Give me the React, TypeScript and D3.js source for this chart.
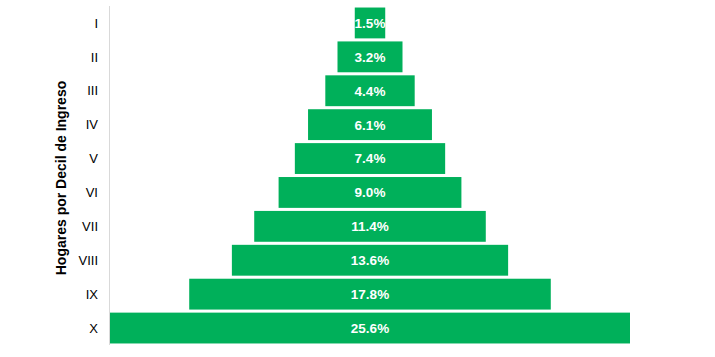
import React from "react";
import * as d3 from "d3";

const deciles = ["I", "II", "III", "IV", "V", "VI", "VII", "VIII", "IX", "X"];
const shares = [1.5, 3.2, 4.4, 6.1, 7.4, 9.0, 11.4, 13.6, 17.8, 25.6];

export default function App() {
  const W = 715, H = 357;
  const axisX = 110;
  const center = 370;
  const top = 6, bottom = 345;
  const y = d3.scaleBand<string>().domain(deciles).range([top, bottom]).paddingInner(0.09).paddingOuter(0.045);
  const w = d3.scaleLinear().domain([0, 25.6]).range([0, 520]);
  return (
    <svg width={W} height={H} style={{ position: "absolute", left: 0, top: 0 }}>
      <rect width={W} height={H} fill="#fff" />
      {deciles.map((d, i) => {
        const bw = w(shares[i]);
        const yy = y(d)!;
        return (
          <g key={d}>
            <rect x={center - bw / 2} y={yy} width={bw} height={y.bandwidth()} fill="#00B05A" />
            <text x={center} y={yy + y.bandwidth() / 2} dy="0.36em" textAnchor="middle" fill="#fff"
              fontFamily="Liberation Sans, Arial, sans-serif" fontWeight="bold" fontSize={13.5}>
              {shares[i].toFixed(1)}%
            </text>
            <text x={98} y={yy + y.bandwidth() / 2} dy="0.36em" textAnchor="end" fill="#000"
              fontFamily="Liberation Sans, Arial, sans-serif" fontSize={13}>
              {d}
            </text>
          </g>
        );
      })}
      <line x1={axisX - 0.5} x2={axisX - 0.5} y1={top} y2={bottom} stroke="#d9d9d9" strokeWidth={1} />
      <text transform={`translate(66,178) rotate(-90)`} textAnchor="middle"
        fontFamily="Liberation Sans, Arial, sans-serif" fontWeight="bold" fontSize={14}>
        Hogares por Decil de Ingreso
      </text>
    </svg>
  );
}
